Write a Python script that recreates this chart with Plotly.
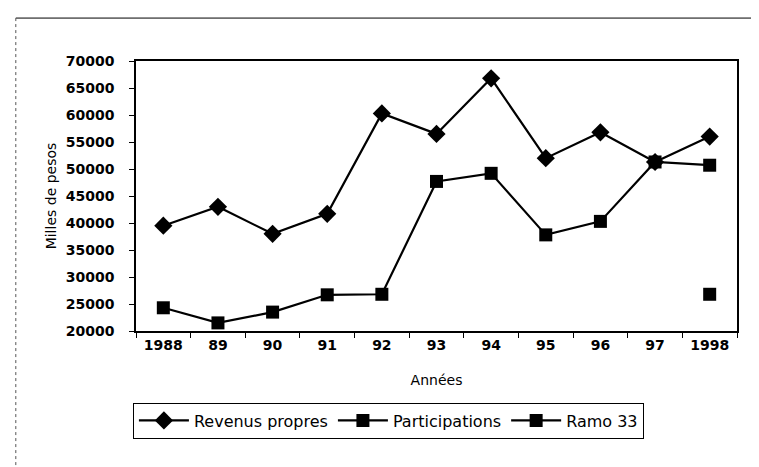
import plotly.graph_objects as go

years = ['1988', '89', '90', '91', '92', '93', '94', '95', '96', '97', '1998']
revenus_propres = [39500, 43000, 38000, 41700, 60300, 56500, 66800, 52000, 56800, 51300, 56000]
participations = [24300, 21500, 23500, 26700, 26800, 47700, 49200, 37800, 40300, 51300, 50700]
ramo_33 = [None, None, None, None, None, None, None, None, None, None, 26800]
y_ticks = [20000, 25000, 30000, 35000, 40000, 45000, 50000, 55000, 60000, 65000, 70000]
y_tick_labels = [str(v) for v in y_ticks]

FONT = 'DejaVu Sans, Arial, sans-serif'

fig = go.Figure()

fig.add_trace(go.Scatter(
    x=years, y=revenus_propres, name='Revenus propres',
    mode='lines+markers',
    line=dict(color='black', width=2.2),
    marker=dict(symbol='diamond', size=14, color='black'),
))
fig.add_trace(go.Scatter(
    x=years, y=participations, name='Participations',
    mode='lines+markers',
    line=dict(color='black', width=2.2),
    marker=dict(symbol='square', size=13, color='black'),
))
fig.add_trace(go.Scatter(
    x=years, y=ramo_33, name='Ramo 33',
    mode='lines+markers',
    line=dict(color='black', width=2.2),
    marker=dict(symbol='square', size=13, color='black'),
))

# outer chart frame (top and left edges visible in the scan)
fig.add_shape(type='line', xref='paper', yref='paper',
              x0=-0.2, x1=1.06, y0=1.159, y1=1.159,
              line=dict(color='black', width=1))
fig.add_shape(type='line', xref='paper', yref='paper',
              x0=-0.2, x1=-0.2, y0=1.159, y1=-0.53,
              line=dict(color='#555', width=1, dash='dot'))

fig.update_layout(
    width=759, height=467,
    margin=dict(l=128, r=30, t=53, b=144),
    plot_bgcolor='white', paper_bgcolor='white',
    font=dict(family=FONT, color='black', size=13),
    showlegend=True,
    legend=dict(
        orientation='h', x=0.42, xanchor='center', y=-0.265, yanchor='top',
        bordercolor='black', borderwidth=1, font=dict(size=16),
        itemwidth=50, tracegroupgap=0,
    ),
    xaxis=dict(
        type='category', range=[-0.5, 10.5],
        tickson='boundaries', ticks='outside', ticklen=5, tickcolor='black',
        showline=True, linecolor='black', linewidth=1.5, mirror=True,
        showgrid=False,
        tickfont=dict(size=14, weight='bold'),
        title=dict(text='Années', font=dict(size=14), standoff=24),
    ),
    yaxis=dict(
        range=[20000, 70000], tickvals=y_ticks, ticktext=y_tick_labels,
        ticks='outside', ticklen=5, tickcolor='black', ticklabelstandoff=12,
        showline=True, linecolor='black', linewidth=1.5, mirror=True,
        showgrid=False, zeroline=False,
        tickfont=dict(size=14, weight='bold'),
        title=dict(text='Milles de pesos', font=dict(size=14), standoff=6),
    ),
)

fig.write_html('out.html')
